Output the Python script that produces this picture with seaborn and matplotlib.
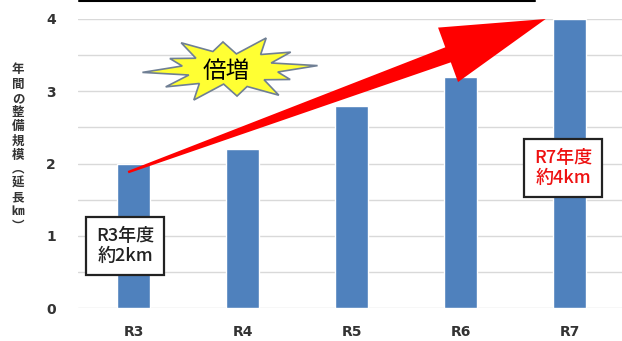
import numpy as np
import pandas as pd
import matplotlib
matplotlib.use("Agg")
import matplotlib.pyplot as plt
import seaborn as sns
from matplotlib.patches import Polygon
from matplotlib.lines import Line2D

# data
years = ["R3", "R4", "R5", "R6", "R7"]
length_km = [2.0, 2.2, 2.8, 3.2, 4.0]
y_ticks = [0, 1, 2, 3, 4]
ylabel_chars = ["年", "間", "の", "整", "備", "規", "模", "︵", "延", "長", "㎞", "︶"]
burst_text = "倍増"
start_note = "R3年度\n約2km"
end_note = "R7年度\n約4km"

df = pd.DataFrame({"year": years, "km": length_km})

sns.set_theme(style="white")
plt.rcParams["font.family"] = ["Noto Sans CJK JP", "DejaVu Sans"]

W, H = 622, 341
fig = plt.figure(figsize=(W / 100, H / 100), dpi=100)
ax = fig.add_axes([78 / W, 33 / H, 1 - 78 / W, (308 - 19) / H])

sns.barplot(data=df, x="year", y="km", color="#4F81BD", width=0.30,
            saturation=1, ax=ax, zorder=3)

ax.set_ylim(0, 4)
ax.set_xlim(-0.51, 4.48)
ax.set_yticks(y_ticks)
ax.set_yticks(np.arange(0.5, 4, 1), minor=True)
ax.grid(axis="y", which="both", color="#d9d9d9", linewidth=1, zorder=0)
ax.set_axisbelow(True)
for s in ax.spines.values():
    s.set_visible(False)
ax.tick_params(axis="both", which="both", length=0)
ax.tick_params(axis="y", pad=16)
ax.tick_params(axis="x", pad=12)
for lab in ax.get_xticklabels() + ax.get_yticklabels():
    lab.set_fontweight("bold")
    lab.set_fontsize(10)
    lab.set_color("#333333")
    lab.set_family("DejaVu Sans")
ax.set_xlabel("")
ax.set_ylabel("")

# vertical y label, one char per line
fig.text(18 / W, 1 - 148 / H, "\n".join(ylabel_chars), ha="center", va="center",
         fontsize=9, fontweight="bold", color="#333333", linespacing=1.12)

# thin black line at very top
fig.add_artist(Line2D([79 / W, 535 / W], [1 - 1 / H, 1 - 1 / H], color="black", linewidth=1.5))

fig.canvas.draw()

# red trend arrow from R3 to R7 (display/pixel coords)
tail = ax.transData.transform((-0.05, length_km[0] - 0.12))
tip = ax.transData.transform((3.78, length_km[-1]))
d = tip - tail
L = np.hypot(*d)
u = d / L
n = np.array([-u[1], u[0]])
head_len, head_half, shaft_half, tail_half = 104, 29, 8, 1.2
base = tip - u * head_len
arrow_pts = [tail + n * tail_half, base + n * shaft_half, base + n * head_half, tip,
             base - n * head_half, base - n * shaft_half, tail - n * tail_half]
fig.add_artist(Polygon(arrow_pts, closed=True, transform=None, facecolor="#ff0000",
                       edgecolor="none", zorder=5))

# starburst
cx, cy = 230, H - 69
ang = np.linspace(0, 2 * np.pi, 25)[:-1] + 0.1
rad = np.array([1.0, 0.5, 0.85, 0.55, 1.0, 0.45, 0.8, 0.55, 0.95, 0.5, 0.75, 0.55,
                1.0, 0.5, 0.9, 0.55, 1.0, 0.45, 0.8, 0.55, 0.95, 0.5, 0.75, 0.55])
star = np.column_stack([cx + 88 * rad * np.cos(ang), cy + 34 * rad * np.sin(ang)])
fig.add_artist(Polygon(star, closed=True, transform=None, facecolor="#ffff33",
                       edgecolor="#6f7f94", linewidth=1.2, zorder=4))
fig.text(226 / W, 1 - 71 / H, burst_text, ha="center", va="center", fontsize=17,
         color="black", zorder=6)

# callout boxes
box = dict(boxstyle="square,pad=0.55", facecolor="white", edgecolor="#222222", linewidth=1.6)
fig.text(125 / W, 1 - 246 / H, start_note, ha="center", va="center", fontsize=13,
         fontweight="medium", color="#222222", linespacing=1.2, bbox=box, zorder=7)
fig.text(563 / W, 1 - 168 / H, end_note, ha="center", va="center", fontsize=13,
         fontweight="medium", color="#ee1111", linespacing=1.2, bbox=box, zorder=7)

fig.savefig("out.png", dpi=100)
